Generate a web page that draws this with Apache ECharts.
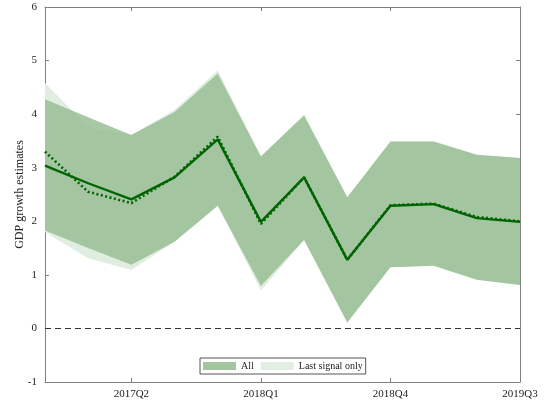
<!DOCTYPE html>
<html>
<head>
<meta charset="utf-8">
<script src="https://cdn.jsdelivr.net/npm/echarts@6/dist/echarts.min.js"></script>
<style>
  html, body { margin: 0; padding: 0; background: #fff; }
  #chart { width: 544px; height: 405px; }
</style>
</head>
<body>
<div id="chart"></div>
<script>
// quarters 2016Q4 .. 2019Q3
const quarters = ['2016Q4', '2017Q1', '2017Q2', '2017Q3', '2017Q4', '2018Q1',
  '2018Q2', '2018Q3', '2018Q4', '2019Q1', '2019Q2', '2019Q3']
const allMean = [3.04, 2.71, 2.41, 2.82, 3.53, 1.99, 2.82, 1.28, 2.29, 2.32, 2.06, 1.99]
const allUpper = [4.28, 3.94, 3.61, 4.04, 4.76, 3.21, 3.98, 2.45, 3.49, 3.49, 3.24, 3.18]
const allLower = [1.83, 1.50, 1.19, 1.62, 2.29, 0.79, 1.65, 0.11, 1.14, 1.17, 0.91, 0.81]
const lastMean = [3.30, 2.55, 2.34, 2.83, 3.58, 1.95, 2.82, 1.28, 2.30, 2.33, 2.08, 2.00]
const lastUpper = [4.58, 3.76, 3.61, 4.08, 4.82, 3.22, 3.98, 2.45, 3.49, 3.49, 3.24, 3.18]
const lastLower = [1.80, 1.31, 1.09, 1.62, 2.29, 0.71, 1.65, 0.11, 1.14, 1.17, 0.91, 0.81]

const FONT = '"Liberation Serif", "DejaVu Serif", serif'
const AXIS = '#808080'
const LINE = '#006400'

const chart = echarts.init(document.getElementById('chart'))
const showIdx = (i) => i % 3 === 2

const xBase = {
  type: 'category', data: quarters, boundaryGap: false,
  axisLine: { onZero: false, lineStyle: { color: AXIS, width: 1 } },
  axisTick: { inside: true, length: 4, interval: showIdx, lineStyle: { color: AXIS } },
  splitLine: { show: false }
}
const yBase = {
  type: 'value', min: -1, max: 6, interval: 1,
  axisLine: { show: true, onZero: false, lineStyle: { color: AXIS, width: 1 } },
  axisTick: { show: true, inside: true, length: 4, lineStyle: { color: AXIS } },
  splitLine: { show: false }
}

chart.setOption({
  animation: false,
  textStyle: { fontFamily: FONT },
  grid: { left: 45, right: 24, top: 7, bottom: 23 },
  legend: {
    bottom: 31, left: 200,
    data: [
      { name: 'All', icon: 'rect', itemStyle: { color: '#a3c6a0' } },
      { name: 'Last signal only', icon: 'rect', itemStyle: { color: '#e3eee2' } }
    ],
    itemWidth: 33, itemHeight: 8, itemGap: 7,
    padding: [3, 3], borderColor: '#555', borderWidth: 1, borderRadius: 0,
    backgroundColor: '#fff',
    textStyle: { fontFamily: FONT, fontSize: 10, color: '#222' }
  },
  xAxis: [
    Object.assign({}, xBase, {
      position: 'bottom',
      axisLabel: { interval: showIdx, color: '#222', fontSize: 11, fontFamily: FONT, margin: 7 }
    }),
    Object.assign({}, xBase, { position: 'top', axisLabel: { show: false } })
  ],
  yAxis: [
    Object.assign({}, yBase, {
      position: 'left',
      name: 'GDP growth estimates', nameLocation: 'middle', nameGap: 19,
      nameMoveOverlap: false,
      nameTextStyle: { fontFamily: FONT, fontSize: 12, color: '#222' },
      axisLabel: { color: '#222', fontSize: 11, fontFamily: FONT, margin: 8 }
    }),
    Object.assign({}, yBase, { position: 'right', axisLabel: { show: false } })
  ],
  series: [
    {
      name: 'lastBase', type: 'line', stack: 'last', data: lastLower,
      symbol: 'none', lineStyle: { opacity: 0 }, silent: true
    },
    {
      name: 'Last signal only', type: 'line', stack: 'last',
      data: lastUpper.map((v, i) => +(v - lastLower[i]).toFixed(2)),
      symbol: 'none', lineStyle: { opacity: 0 },
      areaStyle: { color: '#e1ede0', opacity: 1 }
    },
    {
      name: 'allBase', type: 'line', stack: 'all', data: allLower,
      symbol: 'none', lineStyle: { opacity: 0 }, silent: true
    },
    {
      name: 'All', type: 'line', stack: 'all',
      data: allUpper.map((v, i) => +(v - allLower[i]).toFixed(2)),
      symbol: 'none', lineStyle: { opacity: 0 },
      areaStyle: { color: 'rgba(147,188,144,0.8)', opacity: 1 }
    },
    {
      name: 'allMean', type: 'line', data: allMean, symbol: 'none', z: 5,
      lineStyle: { color: LINE, width: 2.4 },
      markLine: {
        silent: true, symbol: 'none', label: { show: false },
        lineStyle: { color: '#333', type: [6, 4], width: 1 },
        data: [{ yAxis: 0 }]
      }
    },
    {
      name: 'lastMean', type: 'line', data: lastMean, symbol: 'none', z: 5,
      lineStyle: { color: LINE, width: 2.6, type: [2, 2.5] }
    }
  ]
})
</script>
</body>
</html>
